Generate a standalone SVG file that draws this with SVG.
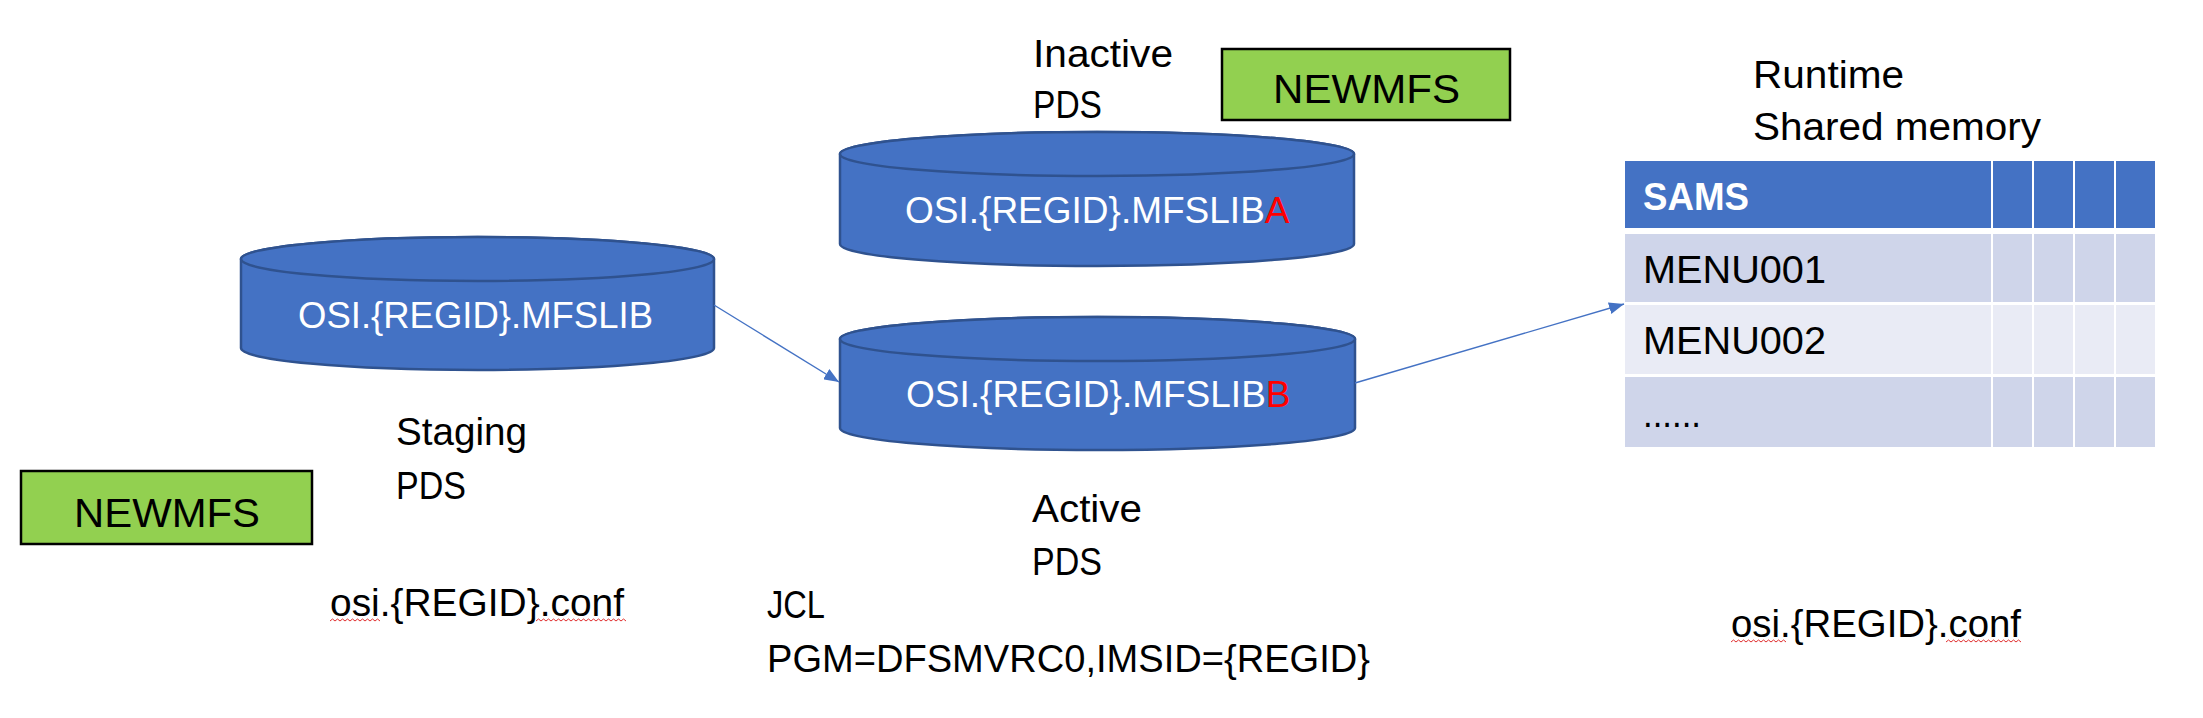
<svg xmlns="http://www.w3.org/2000/svg" width="2203" height="718" viewBox="0 0 2203 718">
<style>
text{font-family:"Liberation Sans",Arial,sans-serif;font-size:38px;fill:#000}
.cyl{fill:#4472C4;stroke:#2F528F;stroke-width:2.5}
.ct{font-size:37px}
.wt{fill:#fff}
.red{fill:#FF0000}
.box{fill:#92D050;stroke:#000;stroke-width:2.5}
.nm{font-size:41px}
.hd{fill:#4472C4}
.r1{fill:#CFD5EA}
.r2{fill:#E9EBF5}
.sq{fill:none;stroke:#E03030;stroke-width:1}
.conn{stroke:#4472C4;stroke-width:1.4;fill:none}
</style>
<defs>
<marker id="ah" markerUnits="userSpaceOnUse" markerWidth="16" markerHeight="12" refX="15" refY="6" orient="auto">
<path d="M0,0 L15,6 L0,12 z" fill="#4472C4"/>
</marker>
</defs>
<rect width="2203" height="718" fill="#fff"/>

<g id="staging-pds">
<path class="cyl" d="M241,259 L241,348 A236.5,22 0 0 0 714,348 L714,259 A236.5,22 0 0 0 241,259 Z"/>
<ellipse class="cyl" cx="477.5" cy="259" rx="236.5" ry="22"/>
<text class="wt ct" x="298" y="328" textLength="355" lengthAdjust="spacingAndGlyphs">OSI.{REGID}.MFSLIB</text>
</g>

<g id="inactive-pds">
<path class="cyl" d="M840,154 L840,244 A257,22 0 0 0 1354,244 L1354,154 A257,22 0 0 0 840,154 Z"/>
<ellipse class="cyl" cx="1097" cy="154" rx="257" ry="22"/>
<text class="wt ct" x="905" y="223">OSI.{REGID}.MFSLIB<tspan class="red">A</tspan></text>
</g>

<g id="active-pds">
<path class="cyl" d="M840,339 L840,428 A257.5,22 0 0 0 1355,428 L1355,339 A257.5,22 0 0 0 840,339 Z"/>
<ellipse class="cyl" cx="1097.5" cy="339" rx="257.5" ry="22"/>
<text class="wt ct" x="906" y="407">OSI.{REGID}.MFSLIB<tspan class="red">B</tspan></text>
</g>

<g id="newmfs-top">
<rect class="box" x="1222" y="49" width="288" height="71"/>
<text class="nm" x="1273" y="103" textLength="187" lengthAdjust="spacingAndGlyphs">NEWMFS</text>
</g>

<g id="newmfs-bottom">
<rect class="box" x="21" y="471" width="291" height="73"/>
<text class="nm" x="74" y="527" textLength="186" lengthAdjust="spacingAndGlyphs">NEWMFS</text>
</g>

<g id="label-inactive">
<text x="1033" y="67" textLength="140" lengthAdjust="spacingAndGlyphs">Inactive</text>
<text x="1033" y="118" textLength="69" lengthAdjust="spacingAndGlyphs">PDS</text>
</g>

<g id="label-staging">
<text x="396" y="445" textLength="131" lengthAdjust="spacingAndGlyphs">Staging</text>
<text x="396" y="499" textLength="70" lengthAdjust="spacingAndGlyphs">PDS</text>
</g>

<g id="label-active">
<text x="1032" y="522" textLength="110" lengthAdjust="spacingAndGlyphs">Active</text>
<text x="1032" y="575" textLength="70" lengthAdjust="spacingAndGlyphs">PDS</text>
</g>

<g id="label-runtime">
<text x="1753" y="88" textLength="151" lengthAdjust="spacingAndGlyphs">Runtime</text>
<text x="1753" y="140" textLength="288" lengthAdjust="spacingAndGlyphs">Shared memory</text>
</g>

<g id="conf-left">
<text x="330" y="616" textLength="294" lengthAdjust="spacingAndGlyphs">osi.{REGID}.conf</text>
<path class="sq" d="M330,621 l2.5,-2 l2.5,2 l2.5,-2 l2.5,2 l2.5,-2 l2.5,2 l2.5,-2 l2.5,2 l2.5,-2 l2.5,2 l2.5,-2 l2.5,2 l2.5,-2 l2.5,2 l2.5,-2 l2.5,2 l2.5,-2 l2.5,2 l2.5,-2 l2.5,2"/>
<path class="sq" d="M536,621 l2.5,-2 l2.5,2 l2.5,-2 l2.5,2 l2.5,-2 l2.5,2 l2.5,-2 l2.5,2 l2.5,-2 l2.5,2 l2.5,-2 l2.5,2 l2.5,-2 l2.5,2 l2.5,-2 l2.5,2 l2.5,-2 l2.5,2 l2.5,-2 l2.5,2 l2.5,-2 l2.5,2 l2.5,-2 l2.5,2 l2.5,-2 l2.5,2 l2.5,-2 l2.5,2 l2.5,-2 l2.5,2 l2.5,-2 l2.5,2 l2.5,-2 l2.5,2 l2.5,-2 l2.5,2"/>
</g>

<g id="jcl">
<text x="767" y="618" textLength="58" lengthAdjust="spacingAndGlyphs">JCL</text>
<text x="767" y="672" textLength="603" lengthAdjust="spacingAndGlyphs">PGM=DFSMVRC0,IMSID={REGID}</text>
</g>

<g id="conf-right">
<text x="1731" y="637" textLength="290" lengthAdjust="spacingAndGlyphs">osi.{REGID}.conf</text>
<path class="sq" d="M1731,642 l2.5,-2 l2.5,2 l2.5,-2 l2.5,2 l2.5,-2 l2.5,2 l2.5,-2 l2.5,2 l2.5,-2 l2.5,2 l2.5,-2 l2.5,2 l2.5,-2 l2.5,2 l2.5,-2 l2.5,2 l2.5,-2 l2.5,2 l2.5,-2 l2.5,2 l2.5,-2 l2.5,2"/>
<path class="sq" d="M1946,642 l2.5,-2 l2.5,2 l2.5,-2 l2.5,2 l2.5,-2 l2.5,2 l2.5,-2 l2.5,2 l2.5,-2 l2.5,2 l2.5,-2 l2.5,2 l2.5,-2 l2.5,2 l2.5,-2 l2.5,2 l2.5,-2 l2.5,2 l2.5,-2 l2.5,2 l2.5,-2 l2.5,2 l2.5,-2 l2.5,2 l2.5,-2 l2.5,2 l2.5,-2 l2.5,2 l2.5,-2 l2.5,2"/>
</g>

<g id="sams-table">
<rect class="hd" x="1625" y="161" width="366" height="67"/>
<rect class="hd" x="1993" y="161" width="39" height="67"/>
<rect class="hd" x="2034" y="161" width="39" height="67"/>
<rect class="hd" x="2075" y="161" width="39" height="67"/>
<rect class="hd" x="2116" y="161" width="39" height="67"/>
<rect class="r1" x="1625" y="234" width="366" height="68"/>
<rect class="r1" x="1993" y="234" width="39" height="68"/>
<rect class="r1" x="2034" y="234" width="39" height="68"/>
<rect class="r1" x="2075" y="234" width="39" height="68"/>
<rect class="r1" x="2116" y="234" width="39" height="68"/>
<rect class="r2" x="1625" y="305" width="366" height="69"/>
<rect class="r2" x="1993" y="305" width="39" height="69"/>
<rect class="r2" x="2034" y="305" width="39" height="69"/>
<rect class="r2" x="2075" y="305" width="39" height="69"/>
<rect class="r2" x="2116" y="305" width="39" height="69"/>
<rect class="r1" x="1625" y="377" width="366" height="70"/>
<rect class="r1" x="1993" y="377" width="39" height="70"/>
<rect class="r1" x="2034" y="377" width="39" height="70"/>
<rect class="r1" x="2075" y="377" width="39" height="70"/>
<rect class="r1" x="2116" y="377" width="39" height="70"/>
<text class="wt" x="1643" y="210" font-weight="bold" textLength="106" lengthAdjust="spacingAndGlyphs">SAMS</text>
<text x="1643" y="283" textLength="183" lengthAdjust="spacingAndGlyphs">MENU001</text>
<text x="1643" y="354" textLength="183" lengthAdjust="spacingAndGlyphs">MENU002</text>
<text x="1643" y="427" textLength="58" lengthAdjust="spacingAndGlyphs">......</text>
</g>

<g id="connectors">
<line class="conn" x1="714" y1="305" x2="839" y2="382" marker-end="url(#ah)"/>
<line class="conn" x1="1355" y1="383" x2="1624" y2="304" marker-end="url(#ah)"/>
</g>
</svg>
